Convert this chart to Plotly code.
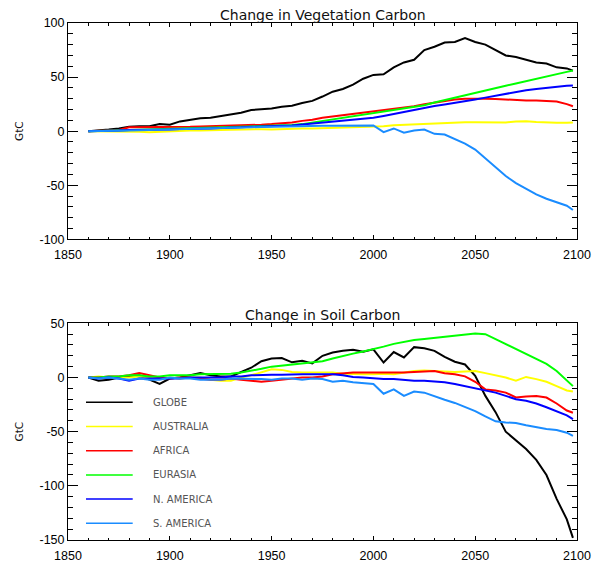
import plotly.graph_objects as go

# ---------------- data ----------------
years = [1860, 1865, 1870, 1875, 1880, 1885, 1890, 1895, 1900, 1905,
         1910, 1915, 1920, 1925, 1930, 1935, 1940, 1945, 1950, 1955,
         1960, 1965, 1970, 1975, 1980, 1985, 1990, 1995, 2000, 2005,
         2010, 2015, 2020, 2025, 2030, 2035, 2040, 2045, 2050, 2055,
         2060, 2065, 2070, 2075, 2080, 2085, 2090, 2095, 2098]

regions = ["GLOBE", "AUSTRALIA", "AFRICA", "EURASIA", "N. AMERICA", "S. AMERICA"]
colors = ["#000000", "#ffff00", "#ff0000", "#00ff00", "#0000ff", "#1a8cff"]

veg_globe = [0, 0.5, 1.5, 2.5, 4, 4.5, 4.5, 6.5, 6, 9,
             10.5, 12, 12.5, 14, 16, 17, 19.5, 20, 21, 22.5,
             23.5, 26, 28, 32, 36.5, 39, 43, 48.5, 52, 52.5,
             59, 63.5, 66, 75, 78, 82, 82.5, 86, 82.5, 80,
             75, 70, 68.5, 66, 63.5, 62.5, 59, 58, 56]
veg_australia = [0, 0, 0, 0, 0, -0.5, -1, -0.5, 0, 0,
                 0.5, 0.5, 1, 1, 1.2, 1.5, 1.5, 1.8, 1.5, 2,
                 2.2, 2.5, 2.5, 2.8, 3, 3, 3.3, 3.5, 3.7, 4.5,
                 5.5, 6, 6.5, 6.8, 7, 7.5, 8, 8.3, 8.3, 8.3,
                 8.3, 8, 9, 9.2, 8.5, 7.8, 7.7, 7.7, 8]
veg_africa = [0, 0.2, 0.5, 1, 3.5, 3.5, 3.5, 3.5, 3.8, 4,
              4, 4.3, 4.5, 4.8, 5, 5.3, 5.5, 6, 6.5, 7,
              8, 9.5, 10.5, 12.3, 13.5, 14.5, 15.8, 17, 18, 19,
              20.5, 21.8, 23, 24.8, 26.3, 27.8, 29.3, 30, 30.2, 30,
              29.8, 29.3, 28.5, 28.3, 28.3, 28, 27.5, 25, 23]
veg_eurasia = [0, 0.3, 0.6, 0.8, 1, 1.2, 1.4, 1.6, 1.8, 2,
               2.3, 2.6, 2.9, 3.2, 3.5, 3.8, 4.1, 4.5, 4.8, 5.2,
               5.6, 6.5, 8, 9.5, 11, 12.5, 14, 15.5, 17, 18.3,
               19.6, 21, 22.5, 24, 26.5, 28.8, 31, 33, 35.5, 37.7,
               40, 42, 44, 46.3, 48.3, 50.5, 52.5, 54.8, 56]
veg_namerica = [0, 0, 0.5, 0.5, 1, 1, 1, 1.5, 1.5, 2,
                2, 2.5, 2.5, 3, 3, 3.5, 4, 4.5, 4.5, 5,
                5.2, 6, 6.8, 7.6, 8.5, 9.4, 10.4, 11.3, 12.3, 14,
                16, 18, 20, 21.8, 23.3, 24.7, 26, 27.5, 29.3, 31,
                32.7, 34.5, 36.4, 37.9, 39, 40.2, 41.2, 42, 42.2]
veg_samerica = [0, 0, 0.2, 0.5, 0.5, 0.8, 1, 1.2, 1.5, 1.8,
                2, 2.2, 2.5, 2.8, 3, 3.3, 3.6, 3.9, 4.2, 4.4,
                4.6, 4.8, 5, 5, 5, 5, 5.2, 5.2, 5.2, -0.9,
                2.5, -1.5, 0.5, 1.5, -2.5, -3.1, -7.5, -11.5, -17, -25,
                -33, -41.5, -48, -53, -58.4, -62.5, -65.5, -69, -72.9]

soil_globe = [0, -3, -2, 0, 1, 2, -2, -6, -1, 0,
              2, 4, 2, 1, 1, 5, 9, 15, 17.5, 18,
              14, 15.4, 13, 20, 23, 24.6, 25.6, 23.7, 26, 13.8,
              23.5, 18.5, 28, 27, 24.6, 19, 14.5, 12, 1.5, -17,
              -32, -50, -58, -66, -76, -90, -112, -131, -148]
soil_australia = [0, 1, 0, 0, 0, 1, 0, -1, 0, -1,
                  0, 0, -2, -3, -3, 0, 2, 5, 7.5, 7,
                  5, 4.5, 4.6, 4.6, 4.5, 3.5, 3, 3, 3, 3.5,
                  3, 4.5, 6, 6.5, 6, 6, 5, 5.5, 6, 4,
                  2, 0, -3, 0.5, -1.5, -4, -8, -12, -13]
soil_africa = [0, 0, 1, 1, 2, 4, 2, 0, -1, 0,
               0, -1, -2, -2, -1, -2, -3, -4, -3, -2,
               -1, 0, 0, 1, 3, 4, 4.5, 4.6, 4.6, 4.6,
               4, 4.5, 5, 5.2, 6, 4, 3, 1, -4, -11,
               -12, -14, -18.5, -17.5, -17, -18.5, -24, -30.5, -32.5]
soil_eurasia = [0, 0, 1, 1, 2, 2, 1, 1, 2, 2,
                2, 3, 3, 3, 3.5, 4.5, 6, 8, 10, 11,
                12, 12.5, 13.5, 15, 17.5, 20, 22, 24, 26, 28.5,
                31, 33, 34.5, 35.5, 36.5, 37.5, 39, 40, 40.5, 40,
                35.5, 31, 26, 21.5, 17, 12.5, 6, -2.5, -8]
soil_namerica = [0, -1, 0, -1, -3, -1, -1, -1, -1, -1,
                 0, 0, 0, 0, 1, 1, 2, 2.5, 2.5, 2.5,
                 3, 3, 3, 3, 3, 2, 0.5, 0, -1, -1.5,
                 -1.5, -2.5, -3, -3, -3.5, -4.5, -6, -8, -10, -11.5,
                 -14, -17, -20, -21.5, -24, -27.5, -31.5, -35, -38.5]
soil_samerica = [0, -1, 0, -1, -2, -1, -2, -2, 0, -1,
                 -1, -2, -2, -2, -1, -1, -1, -1.5, -2, -1,
                 -1, -2, -1, -1.5, -4, -3, -4.5, -5, -6, -15,
                 -11, -17, -13, -14, -17.5, -20.5, -23.5, -27, -31, -36,
                 -40.5, -41.5, -42, -44, -46, -47.5, -48.5, -51, -54]

veg_series = [veg_globe, veg_australia, veg_africa, veg_eurasia, veg_namerica, veg_samerica]
soil_series = [soil_globe, soil_australia, soil_africa, soil_eurasia, soil_namerica, soil_samerica]

x_ticks = [1850, 1900, 1950, 2000, 2050, 2100]
veg_yticks = [-100, -50, 0, 50, 100]
soil_yticks = [-150, -100, -50, 0, 50]

# ---------------- figure ----------------
W, H = 593, 565
ML, MR, MT, MB = 68, 16, 23, 25
plot_h = H - MT - MB
top_dom = [(540 - 239.3) / plot_h, 1.0]
bot_dom = [0.0, (540 - 323.3) / plot_h]

tick_font = dict(family="Liberation Sans, Arial, sans-serif", size=12.5, color="#000000")
text_font = dict(family="DejaVu Sans, sans-serif", size=14, color="#111111")

fig = go.Figure()
for name, col, v, s in zip(regions, colors, veg_series, soil_series):
    fig.add_trace(go.Scatter(x=years, y=v, mode="lines", name=name,
                             line=dict(color=col, width=2), xaxis="x", yaxis="y",
                             showlegend=False, hoverinfo="skip"))
    fig.add_trace(go.Scatter(x=years, y=s, mode="lines", name=name,
                             line=dict(color=col, width=2), xaxis="x2", yaxis="y2",
                             showlegend=False, hoverinfo="skip"))


def xax(anchor):
    return dict(range=[1850, 2100], domain=[0, 1], anchor=anchor,
                tickmode="array", tickvals=x_ticks, ticktext=[str(t) for t in x_ticks],
                ticks="inside", ticklen=4, tickwidth=1, tickcolor="#000000",
                minor=dict(dtick=10, tick0=1850, ticks="inside", ticklen=2.5,
                           tickwidth=1, tickcolor="#000000"),
                showline=True, linecolor="#000000", linewidth=1, mirror="allticks",
                showgrid=False, zeroline=False, tickfont=tick_font,
                ticklabelstandoff=4)


def yax(anchor, rng, ticks, dom):
    return dict(range=rng, domain=dom, anchor=anchor,
                tickmode="array", tickvals=ticks, ticktext=[str(t) for t in ticks],
                ticks="inside", ticklen=10, tickwidth=1, tickcolor="#000000",
                minor=dict(dtick=10, tick0=0, ticks="inside", ticklen=5,
                           tickwidth=1, tickcolor="#000000"),
                showline=True, linecolor="#000000", linewidth=1, mirror="allticks",
                showgrid=False, zeroline=False, tickfont=tick_font)


fig.update_layout(
    width=W, height=H,
    margin=dict(l=ML, r=MR, t=MT, b=MB, autoexpand=False),
    paper_bgcolor="#ffffff", plot_bgcolor="#ffffff",
    xaxis=xax("y"), yaxis=yax("x", [-100, 100], veg_yticks, top_dom),
    xaxis2=xax("y2"), yaxis2=yax("x2", [-150, 50], soil_yticks, bot_dom),
    showlegend=False,
)

annots = []
# titles
annots.append(dict(text="Change in Vegetation Carbon", xref="paper", yref="paper",
                   x=0.5, y=(540 - 15) / plot_h, xanchor="center", yanchor="middle",
                   showarrow=False, font=text_font))
annots.append(dict(text="Change in Soil Carbon", xref="paper", yref="paper",
                   x=0.5, y=(540 - 315) / plot_h, xanchor="center", yanchor="middle",
                   showarrow=False, font=text_font))
# y-axis titles
for ycen in [131.5, 432.0]:
    annots.append(dict(text="GtC", xref="paper", yref="paper",
                       x=(18.5 - ML) / (W - ML - MR), y=(540 - ycen) / plot_h,
                       xanchor="center", yanchor="middle", textangle=-90,
                       showarrow=False,
                       font=dict(family="DejaVu Sans, sans-serif", size=10.5, color="#111111")))

# legend inside lower panel
shapes = []
leg_x0, leg_x1, leg_tx = 86, 132.7, 151
leg_y0, leg_dy = 402.3, 24.2
bot_h = 540 - 323.3
for i, (name, col) in enumerate(zip(regions, colors)):
    py = leg_y0 + i * leg_dy
    yd = (540 - py) / bot_h
    shapes.append(dict(type="line", xref="x2 domain", yref="y2 domain",
                       x0=(leg_x0 - ML) / (W - ML - MR), x1=(leg_x1 - ML) / (W - ML - MR),
                       y0=yd, y1=yd, line=dict(color=col, width=1.5)))
    annots.append(dict(text=name, xref="x2 domain", yref="y2 domain",
                       x=(leg_tx - ML) / (W - ML - MR), y=yd, xanchor="left", yanchor="middle",
                       showarrow=False,
                       font=dict(family="DejaVu Sans, sans-serif", size=10, color="#555555")))

fig.update_layout(annotations=annots, shapes=shapes)
fig.write_html("out.html")
